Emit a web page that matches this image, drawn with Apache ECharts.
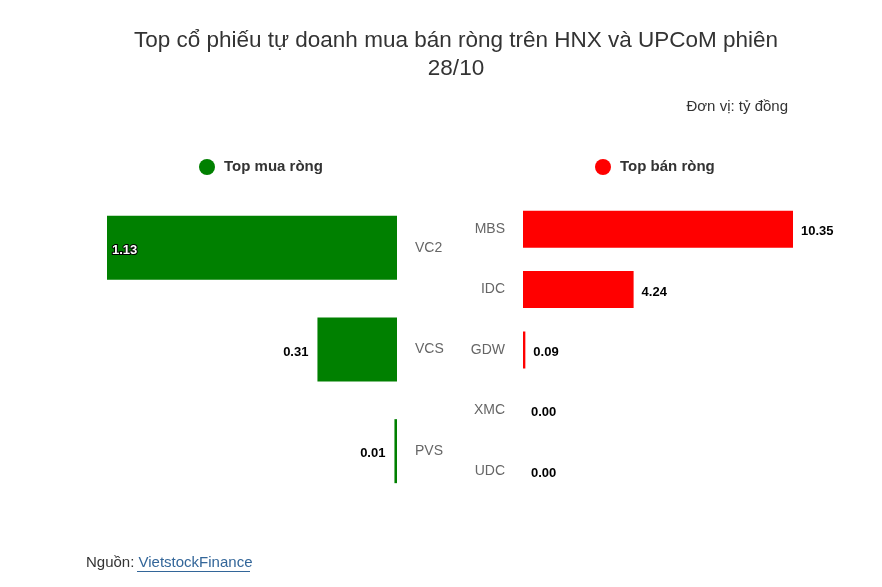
<!DOCTYPE html>
<html>
<head>
<meta charset="utf-8">
<script src="https://cdn.jsdelivr.net/npm/echarts@6/dist/echarts.min.js"></script>
<style>html,body{margin:0;padding:0;background:#fff}#c{width:882px;height:587px}</style>
</head>
<body>
<div id="c"></div>
<script>
const buyCategories = ['VC2', 'VCS', 'PVS'];
const buyValues = [1.13, 0.31, 0.01];
const sellCategories = ['MBS', 'IDC', 'GDW', 'XMC', 'UDC'];
const sellValues = [10.35, 4.24, 0.09, 0.00, 0.00];
const titleText = 'Top cổ phiếu tự doanh mua bán ròng trên HNX và UPCoM phiên\n28/10';
const unitText = 'Đơn vị: tỷ đồng';
const buyName = 'Top mua ròng';
const sellName = 'Top bán ròng';

const FONT = 'Arial, "Liberation Sans", sans-serif';
const chart = echarts.init(document.getElementById('c'), null, {renderer: 'canvas'});

const buyData = buyValues.map((v, i) => {
  const d = {value: v};
  if (i === 0) {
    d.label = {position: 'insideLeft', color: '#fff', textBorderColor: '#000', textBorderWidth: 2, distance: 5};
  }
  return d;
});

const valueLabel = {
  show: true, distance: 9, color: '#000', fontFamily: FONT, fontSize: 13, fontWeight: 'bold',
  offset: [0, 2.5], formatter: p => p.value.toFixed(2)
};

chart.setOption({
  animation: false,
  backgroundColor: '#fff',
  title: {
    text: titleText,
    left: 451,
    textAlign: 'center',
    top: 22,
    textStyle: {fontFamily: FONT, fontSize: 22.5, fontWeight: 'normal', color: '#333', lineHeight: 28}
  },
  legend: [
    {
      data: [buyName], left: 199, top: 159, padding: 0, icon: 'circle', itemWidth: 16, itemHeight: 16,
      selectedMode: false,
      textStyle: {fontFamily: FONT, fontSize: 15, fontWeight: 'bold', color: '#333', padding: [0, 0, 0, 4]}
    },
    {
      data: [sellName], left: 595, top: 159, padding: 0, icon: 'circle', itemWidth: 16, itemHeight: 16,
      selectedMode: false,
      textStyle: {fontFamily: FONT, fontSize: 15, fontWeight: 'bold', color: '#333', padding: [0, 0, 0, 4]}
    }
  ],
  grid: [
    {left: 107, width: 290, top: 197, height: 305, containLabel: false},
    {left: 523, width: 270, top: 199, height: 302, containLabel: false}
  ],
  xAxis: [
    {gridIndex: 0, type: 'value', inverse: true, min: 0, max: 1.13, show: false},
    {gridIndex: 1, type: 'value', min: 0, max: 10.35, show: false}
  ],
  yAxis: [
    {
      gridIndex: 0, type: 'category', data: buyCategories, inverse: true, position: 'right',
      axisLine: {show: false}, axisTick: {show: false},
      axisLabel: {align: 'left', margin: 18, color: '#666', fontFamily: FONT, fontSize: 14, padding: [5, 0, 0, 0]}
    },
    {
      gridIndex: 1, type: 'category', data: sellCategories, inverse: true, position: 'left',
      axisLine: {show: false}, axisTick: {show: false},
      axisLabel: {margin: 18, color: '#666', fontFamily: FONT, fontSize: 14, padding: [3, 0, 0, 0]}
    }
  ],
  series: [
    {
      name: buyName, type: 'bar', xAxisIndex: 0, yAxisIndex: 0, data: buyData,
      barWidth: 64, itemStyle: {color: '#008000'},
      label: Object.assign({}, valueLabel, {position: 'left'})
    },
    {
      name: sellName, type: 'bar', xAxisIndex: 1, yAxisIndex: 1, data: sellValues,
      barWidth: 37, itemStyle: {color: '#ff0000'},
      label: Object.assign({}, valueLabel, {position: 'right', distance: 8})
    }
  ],
  graphic: [
    {
      type: 'text', right: 94, top: 99,
      style: {text: unitText, fill: '#333', font: '15px ' + FONT}
    },
    {
      type: 'text', left: 86, top: 555,
      style: {
        text: '{a|Nguồn: }{b|VietstockFinance}',
        font: '15px ' + FONT,
        rich: {a: {fill: '#333', fontSize: 15, fontFamily: FONT}, b: {fill: '#336699', fontSize: 15, fontFamily: FONT}}
      }
    },
    {
      type: 'line', shape: {x1: 137, y1: 571.5, x2: 250, y2: 571.5},
      style: {stroke: '#336699', lineWidth: 1}
    }
  ]
});
</script>
</body>
</html>
